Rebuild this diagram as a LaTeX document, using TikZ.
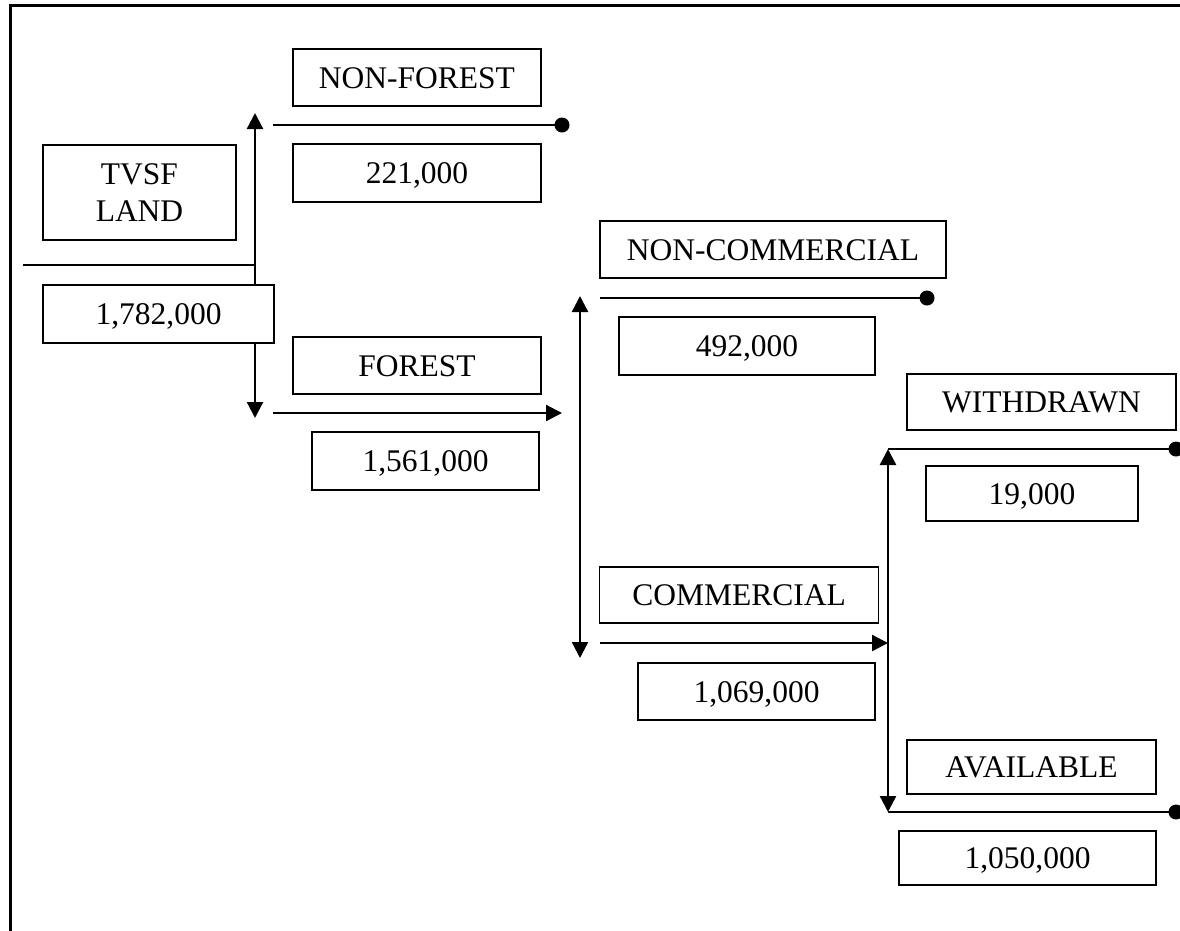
\documentclass[tikz,border=0pt]{standalone}
\usepackage{fontspec}
\setmainfont{Liberation Serif}
\usetikzlibrary{arrows.meta}
\tikzset{
  frameline/.style={line width=3pt},
  conn/.style={line width=2.3pt},
  tri/.tip={Triangle[length=16pt,width=16pt]},
  dbl/.style={conn,tri-tri},
  single/.style={conn,-tri},
  dotend/.style={fill=black},
  box/.style={draw,line width=1.8pt,fill=white,inner sep=0pt,
    font=\fontsize{31.5}{37}\selectfont,text height=21pt,text depth=0pt},
  tallbox/.style={draw,line width=1.8pt,fill=white,inner sep=0pt,align=center,
    font=\fontsize{31.5}{37}\selectfont}
}
\begin{document}
\begin{tikzpicture}[x=1pt,y=-1pt]
\useasboundingbox (0,0) rectangle (1180,930);
% frame
\coordinate (fbl) at (10,932);
\coordinate (ftl) at (10,5);
\coordinate (ftr) at (1182,5);
\draw[frameline] (fbl) -- (ftl) -- (ftr);

% connector end points
\coordinate (v1top) at (255,113);
\coordinate (v1bot) at (255,418);
\coordinate (h0l) at (23,265);
\coordinate (h0r) at (255,265);
\coordinate (h1l) at (273,125);
\coordinate (h1r) at (562,125);
\coordinate (h2l) at (273,413);
\coordinate (h2r) at (562,413);
\coordinate (v2top) at (580,296);
\coordinate (v2bot) at (580,658);
\coordinate (h3l) at (600,298);
\coordinate (h3r) at (927,298);
\coordinate (h4l) at (600,643);
\coordinate (h4r) at (888,643);
\coordinate (v3top) at (888,449);
\coordinate (v3bot) at (888,812);
\coordinate (h5r) at (1176,449);
\coordinate (h6r) at (1176,812);

% connectors
\draw[dbl] (v1bot) -- (v1top);
\draw[conn] (h0l) -- (h0r);
\draw[conn] (h1l) -- (h1r);
\fill[dotend] (h1r) circle (7.5);
\draw[single] (h2l) -- (h2r);
\draw[dbl] (v2bot) -- (v2top);
\draw[conn] (h3l) -- (h3r);
\fill[dotend] (h3r) circle (7.5);
\draw[single] (h4l) -- (h4r);
\draw[dbl] (v3bot) -- (v3top);
\draw[conn] (v3top) -- (h5r);
\fill[dotend] (h5r) circle (7.5);
\draw[conn] (v3bot) -- (h6r);
\fill[dotend] (h6r) circle (7.5);

% boxes
\node[tallbox,minimum width=193pt,minimum height=95pt] (tvsf) at (139.5,192.5) {TVSF\\LAND};
\node[box,minimum width=231pt,minimum height=58pt] (v1782) at (158.5,314) {1,782,000};
\node[box,minimum width=248pt,minimum height=57pt] (nonforest) at (417,77.5) {NON-FOREST};
\node[box,minimum width=248pt,minimum height=58pt] (v221) at (417,173) {221,000};
\node[box,minimum width=248pt,minimum height=57pt] (forest) at (417,365.5) {FOREST};
\node[box,minimum width=227pt,minimum height=58pt] (v1561) at (425.5,461) {1,561,000};
\node[box,minimum width=346pt,minimum height=57pt] (noncom) at (773,249.5) {NON-COMMERCIAL};
\node[box,minimum width=256pt,minimum height=58pt] (v492) at (747,346) {492,000};
\node[box,minimum width=279pt,minimum height=56pt] (commercial) at (739,595) {COMMERCIAL};
\node[box,minimum width=237pt,minimum height=57pt] (v1069) at (756.5,691.5) {1,069,000};
\node[box,minimum width=269pt,minimum height=56pt] (withdrawn) at (1041.5,402) {WITHDRAWN};
\node[box,minimum width=212pt,minimum height=55pt] (v19) at (1032,493.5) {19,000};
\node[box,minimum width=249pt,minimum height=54pt] (available) at (1031.5,767) {AVAILABLE};
\node[box,minimum width=257pt,minimum height=54pt] (v1050) at (1027.5,858) {1,050,000};
\end{tikzpicture}
\end{document}
